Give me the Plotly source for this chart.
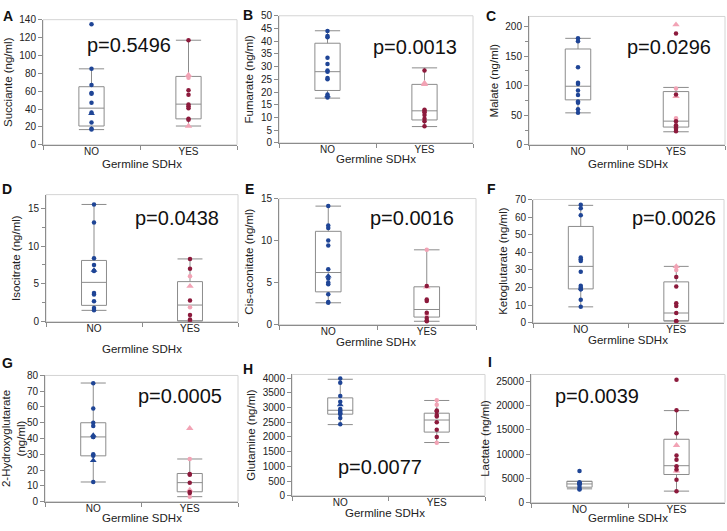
import plotly.graph_objects as go
from plotly.subplots import make_subplots

W, H = 727, 531
groups = ["NO", "YES"]

# ---------------- data ----------------
panel_letters = ["A", "B", "C", "D", "E", "F", "G", "H", "I"]
y_titles = ["Succiante (ng/ml)", "Fumarate (ng/ml)", "Malate (ng/ml)",
            "Isocitrate (ng/ml)", "Cis-aconitate (ng/ml)", "Ketoglutarate (ng/ml)",
            "2-Hydroxyglutarate<br>(ng/ml)", "Glutamine (ng/ml)", "Lactate (ng/ml)"]
x_title = "Germline SDHx"
p_values = ["p=0.5496", "p=0.0013", "p=0.0296", "p=0.0438", "p=0.0016",
            "p=0.0026", "p=0.0005", "p=0.0077", "p=0.0039"]

# box stats: [lower whisker, q1, median, q3, upper whisker]
box_no = [
    [17, 21, 41, 65, 85],
    [17.6, 20.6, 28, 39.2, 44.1],
    [54, 76, 99, 162, 180],
    [1.5, 2.16, 5.2, 8.1, 15.5],
    [2.6, 3.9, 6.2, 11.1, 14.1],
    [9, 19.2, 32, 54.7, 66.7],
    [12.4, 29, 41, 50, 75.2],
    [2422, 2778, 2911, 3333, 3967],
    [2823, 3158, 3830, 4368, 4368],
]
box_yes = [
    [21, 29, 45.5, 76.5, 117],
    [6.4, 9, 12.6, 23, 29.5],
    [22, 30, 40, 90, 97],
    [0.1, 0.1, 2.2, 5.3, 8.3],
    [0.4, 0.9, 1.8, 4.5, 8.9],
    [1, 1, 5.5, 23.2, 32],
    [3.1, 6.2, 12, 17.8, 27],
    [1811, 2167, 2578, 2811, 3244],
    [2352, 5780, 7594, 13040, 18952],
]
no_circles = [
    [135, 85, 67, 58, 57, 47, 36, 25, 18, 17],
    [44, 42, 41.5, 33.5, 31, 28.5, 28, 25.5, 25, 19, 17.8],
    [180, 175, 131, 105, 103, 92, 84, 73, 71, 60, 54],
    [15.5, 13.1, 8.4, 7.5, 6.7, 3.8, 3.6, 2.7, 1.8, 1.5],
    [14.1, 11.8, 11.5, 10, 9.4, 6.6, 5.5, 5.0, 4.8, 3.6, 2.7, 2.6],
    [67, 65, 61, 37, 36, 35, 29, 21, 20, 19, 19, 13, 9],
    [75, 59, 50, 48, 41, 41, 30, 29, 12.4],
    [3990, 3850, 3400, 3200, 2950, 2900, 2850, 2800, 2780, 2650, 2430],
    [6500, 4200, 4000, 3900, 3800, 3700, 3200, 2800, 2700],
]
no_triangles = [[35], [18.5], [], [6.8], [5.8], [], [42, 26], [3100], []]
yes_dark = [
    [117, 61, 56, 45, 43, 41, 29, 28],
    [28.5, 13, 12.6, 12, 11, 9.5, 8.5, 6.5],
    [188, 85, 40, 33, 30, 29, 27, 23],
    [8.3, 7.0, 2.8, 0.9, 0.3, 0.1],
    [4.6, 3.0, 2.8, 1.4, 0.8, 0.5, 0.4],
    [26, 20.5, 11, 9.5, 5.5, 1, 0.8],
    [17.5, 17, 12, 6, 5.5],
    [2900, 2880, 2750, 2700, 2500, 2250, 2000],
    [25300, 19000, 14300, 9700, 8800, 7500, 6800, 4700, 2300],
]
yes_pink_circles = [[75], [], [95, 45, 42], [6.0, 1.9], [8.9, 1.2], [30, 0.5],
                    [27, 3.1], [3250, 3100, 1800], [6600]]
yes_pink_triangles = [[78, 21], [23.5, 23], [203, 82], [4.7], [4.5], [32],
                      [46.5, 7.3], [], [11800, 6500]]

y_ranges = [[0, 140], [0, 50], [0, 217], [0, 16.8], [0, 15], [0, 70],
            [0, 80], [0, 4130], [0, 26400]]
y_dticks = [20, 5, 50, 5, 5, 10, 10, 500, 5000]

# ---------------- layout geometry (pixels) ----------------
plot_x = [(43, 237), (279, 473), (529, 725),
          (46, 238), (279, 476), (533, 724),
          (45, 238), (292, 485), (531, 725)]
plot_y = [(14, 142), (10, 140), (10.7, 142),
          (193, 323), (197, 326), (198, 324),
          (378, 507), (377, 501), (377, 508)]
p_pos = [(129, 40), (415, 42), (669, 42), (177, 217), (412, 217),
         (674, 217), (180, 399), (380, 472), (597, 399)]
letter_pos = [(8, 10), (248, 9), (491, 10), (7, 187), (249, 187),
              (491, 187), (7, 365), (248, 371), (490, 364)]
xtitle_pos = [(142, 162), (376, 157), (628, 162), (142, 351), (376, 344),
              (628, 342), (142, 524), (385, 519), (628, 524)]

BLUE = "#1f4596"
RED = "#8c1a3c"
PINK = "#f2a3b5"
GRAY = "#8c8c8c"
FRAME = "#d4d4d4"
FONT = "Arial, Liberation Sans, sans-serif"

fig = make_subplots(rows=3, cols=3)

for i in range(9):
    r, c = i // 3 + 1, i % 3 + 1
    for g, st in zip(groups, [box_no[i], box_yes[i]]):
        fig.add_trace(go.Box(
            x=[g], lowerfence=[st[0]], q1=[st[1]], median=[st[2]],
            q3=[st[3]], upperfence=[st[4]], width=0.26, whiskerwidth=1,
            fillcolor="rgba(0,0,0,0)", line=dict(color=GRAY, width=1),
            boxpoints=False, hoverinfo="skip", showlegend=False), row=r, col=c)
    sets = [
        ("NO", no_circles[i], BLUE, "circle", 4.5),
        ("NO", no_triangles[i], BLUE, "triangle-up", 6),
        ("YES", yes_pink_circles[i], PINK, "circle", 4.5),
        ("YES", yes_pink_triangles[i], PINK, "triangle-up", 6.5),
        ("YES", yes_dark[i], RED, "circle", 4.5),
    ]
    for g, vals, col, sym, sz in sets:
        if not vals:
            continue
        fig.add_trace(go.Scatter(
            x=[g] * len(vals), y=vals, mode="markers",
            marker=dict(color=col, symbol=sym, size=sz, line=dict(width=0)),
            hoverinfo="skip", showlegend=False), row=r, col=c)

fig.update_layout(width=W, height=H, margin=dict(l=0, r=0, t=0, b=0),
                  paper_bgcolor="white", plot_bgcolor="white",
                  font=dict(family=FONT, color="#222"))

shapes = []
annotations = []
for i in range(9):
    sfx = "" if i == 0 else str(i + 1)
    x0, x1 = plot_x[i]
    y0, y1 = plot_y[i]
    fig.layout["xaxis" + sfx].update(
        domain=[x0 / W, x1 / W], type="category", categoryorder="array",
        categoryarray=groups, range=[-0.5, 1.5], tickson="boundaries",
        ticks="outside", ticklen=4, tickcolor=GRAY, showline=True,
        linecolor=GRAY, linewidth=1, showgrid=False, zeroline=False,
        ticklabelstandoff=-3,
        tickfont=dict(size=10, color="#222", family=FONT))
    yax = dict(
        domain=[1 - y1 / H, 1 - y0 / H], range=y_ranges[i], dtick=y_dticks[i],
        tick0=0, ticks="outside", ticklen=4, tickcolor=GRAY, showline=True,
        linecolor=GRAY, linewidth=1, showgrid=False, zeroline=False,
        tickformat="d",
        tickfont=dict(size=10, color="#222", family=FONT),
        title=dict(text=y_titles[i], font=dict(size=11.5, color="#222", family=FONT),
                   standoff=4))
    if i in (2, 3):
        yax["minor"] = dict(ticks="outside", ticklen=3, tickcolor=GRAY,
                            dtick=y_dticks[i] / 2)
    fig.layout["yaxis" + sfx].update(**yax)
    shapes.append(dict(type="rect", xref="x" + sfx + " domain", yref="y" + sfx + " domain",
                       x0=0, x1=1, y0=0, y1=1, line=dict(color=FRAME, width=1),
                       layer="below"))
    px, py = p_pos[i]
    annotations.append(dict(text=p_values[i], xref="paper", yref="paper",
                            x=px / W, y=1 - py / H, showarrow=False,
                            xanchor="center", yanchor="middle",
                            font=dict(size=20, color="#111", family=FONT)))
    lx, ly = letter_pos[i]
    annotations.append(dict(text="<b>" + panel_letters[i] + "</b>", xref="paper",
                            yref="paper", x=lx / W, y=1 - ly / H, showarrow=False,
                            xanchor="center", yanchor="middle",
                            font=dict(size=14, color="#111", family=FONT)))
    tx, ty = xtitle_pos[i]
    annotations.append(dict(text=x_title, xref="paper", yref="paper",
                            x=tx / W, y=1 - ty / H, showarrow=False,
                            xanchor="center", yanchor="middle",
                            font=dict(size=11.5, color="#222", family=FONT)))

fig.update_layout(shapes=shapes, annotations=annotations)
# remove the browser's default 8px body margin so the figure sits at the window origin
fig.write_html("out.html", config={"displayModeBar": False},
               post_script="document.body.style.margin='0';document.body.style.overflow='hidden';")
